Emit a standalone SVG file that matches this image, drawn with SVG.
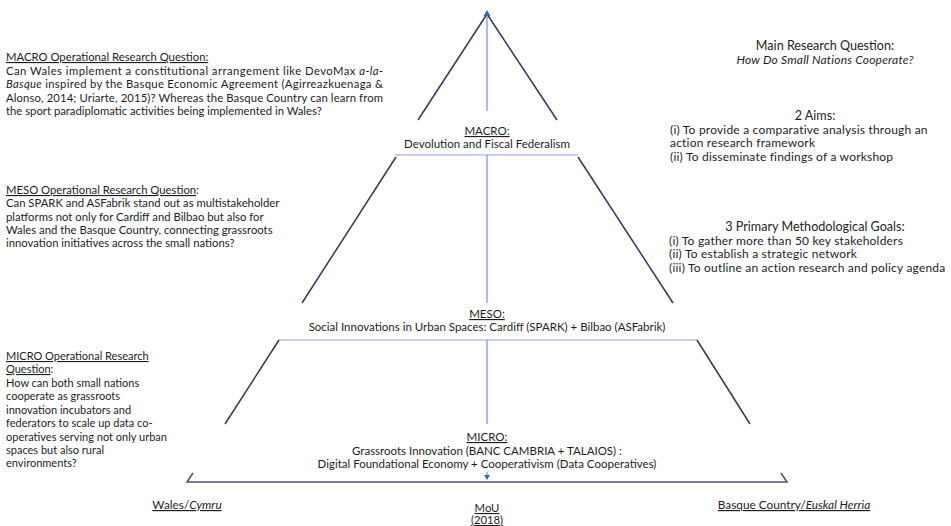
<svg xmlns="http://www.w3.org/2000/svg" width="951" height="526" viewBox="0 0 951 526">
<style>
text{font-family:Lato,"Open Sans","Liberation Sans",sans-serif;font-size:11px;fill:#1e1e1e}
.u{text-decoration:underline}
.i{font-style:italic}
.c{text-anchor:middle}
.mq text,.ms text{font-size:11.3px}
.r text{font-size:12px;letter-spacing:0.2px}
.r .h{font-size:12.6px;letter-spacing:0}
.ctr text{font-size:11.5px}
.lbl text{font-size:11.8px}
.side{stroke:#2f3a5a;stroke-width:1.5;fill:none}
.hz{stroke:#8ea6dc;stroke-width:1.2;fill:none}
.vt{stroke:#5a7ec8;stroke-width:1;fill:none}
.base{stroke:#46536b;stroke-width:1.5;fill:none}
</style>
<rect width="951" height="526" fill="#fff"/>
<g id="connectors">
<line class="side" x1="487" y1="14" x2="418" y2="120"/>
<line class="side" x1="487" y1="14" x2="557" y2="120"/>
<line class="vt" x1="487" y1="16" x2="487" y2="111"/>
<polygon points="487,10 483.5,16 490.5,16" fill="#3d63b5"/>
<line class="hz" x1="395" y1="155" x2="578" y2="155"/>
<line class="vt" x1="487" y1="155" x2="487" y2="303"/>
<line class="side" x1="396" y1="157" x2="302" y2="303"/>
<line class="side" x1="578" y1="157" x2="673" y2="303"/>
<line class="hz" x1="279" y1="340" x2="697" y2="340"/>
<line class="vt" x1="487" y1="340" x2="487" y2="424"/>
<line class="side" x1="279" y1="340" x2="225" y2="424"/>
<line class="side" x1="697" y1="340" x2="750" y2="424"/>
<line class="vt" x1="487" y1="472" x2="487" y2="476"/>
<polygon points="487,480 484,475 490,475" fill="#3d63b5"/>
<polyline class="base" points="193,473 187,482 787,482 781,473"/>
</g>
<g id="macro-question" class="mq">
<text x="6" y="61"><tspan class="u">MACRO Operational Research Question:</tspan><tspan x="6" y="75" textLength="377" lengthAdjust="spacing">Can Wales implement a constitutional arrangement like DevoMax <tspan class="i">a-la-</tspan></tspan><tspan x="6" y="88" textLength="377" lengthAdjust="spacing"><tspan class="i">Basque</tspan> inspired by the Basque Economic Agreement (Agirreazkuenaga &amp;</tspan><tspan x="6" y="102" textLength="377" lengthAdjust="spacing">Alonso, 2014; Uriarte, 2015)? Whereas the Basque Country can learn from</tspan><tspan x="6" y="115">the sport paradiplomatic activities being implemented in Wales?</tspan></text>
</g>
<g id="meso-question" class="ms">
<text x="6" y="194"><tspan class="u">MESO Operational Research Question</tspan>:<tspan x="6" y="207">Can SPARK and ASFabrik stand out as multistakeholder</tspan><tspan x="6" y="221">platforms not only for Cardiff and Bilbao but also for</tspan><tspan x="6" y="234">Wales and the Basque Country, connecting grassroots</tspan><tspan x="6" y="247">innovation initiatives across the small nations?</tspan></text>
</g>
<g id="micro-question">
<text x="6" y="360"><tspan class="u">MICRO Operational Research</tspan><tspan x="6" y="373" class="u">Question</tspan>:<tspan x="6" y="387">How can both small nations</tspan><tspan x="6" y="400">cooperate as grassroots</tspan><tspan x="6" y="414">innovation incubators and</tspan><tspan x="6" y="427">federators to scale up data co-</tspan><tspan x="6" y="441">operatives serving not only urban</tspan><tspan x="6" y="454">spaces but also rural</tspan><tspan x="6" y="467">environments?</tspan></text>
</g>
<g id="main-question" class="r">
<text x="825" y="50" class="c h">Main Research Question:</text>
<text x="825" y="64" class="c i">How Do Small Nations Cooperate?</text>
</g>
<g id="aims" class="r">
<text x="815" y="120" class="c h">2 Aims:</text>
<text x="670" y="133.5">(i) To provide a comparative analysis through an<tspan x="670" y="147.2">action research framework</tspan><tspan x="670" y="161">(ii) To disseminate findings of a workshop</tspan></text>
</g>
<g id="goals" class="r">
<text x="815" y="231" class="c h">3 Primary Methodological Goals:</text>
<text x="669" y="244.6">(i) To gather more than 50 key stakeholders<tspan x="669" y="258.3">(ii) To establish a strategic network</tspan><tspan x="669" y="272">(iii) To outline an action research and policy agenda</tspan></text>
</g>
<g id="macro" class="ctr">
<text x="487" y="135" class="c u">MACRO:</text>
<text x="487" y="148" class="c">Devolution and Fiscal Federalism</text>
</g>
<g id="meso" class="ctr">
<text x="487" y="318" class="c u">MESO:</text>
<text x="487" y="331" class="c">Social Innovations in Urban Spaces: Cardiff (SPARK) + Bilbao (ASFabrik)</text>
</g>
<g id="micro" class="ctr">
<text x="487" y="441" class="c u">MICRO:</text>
<text x="487" y="455" class="c">Grassroots Innovation (BANC CAMBRIA + TALAIOS) :<tspan x="487" y="468">Digital Foundational Economy + Cooperativism (Data Cooperatives)</tspan></text>
</g>
<g id="wales" class="lbl">
<text x="187" y="509" class="c u">Wales/<tspan class="i">Cymru</tspan></text>
</g>
<g id="mou" class="lbl">
<text x="487" y="512" class="c u" style="font-size:11.3px">MoU<tspan x="487" y="524">(2018)</tspan></text>
</g>
<g id="basque" class="lbl">
<text x="794" y="509" class="c u">Basque Country/<tspan class="i">Euskal Herria</tspan></text>
</g>
</svg>
